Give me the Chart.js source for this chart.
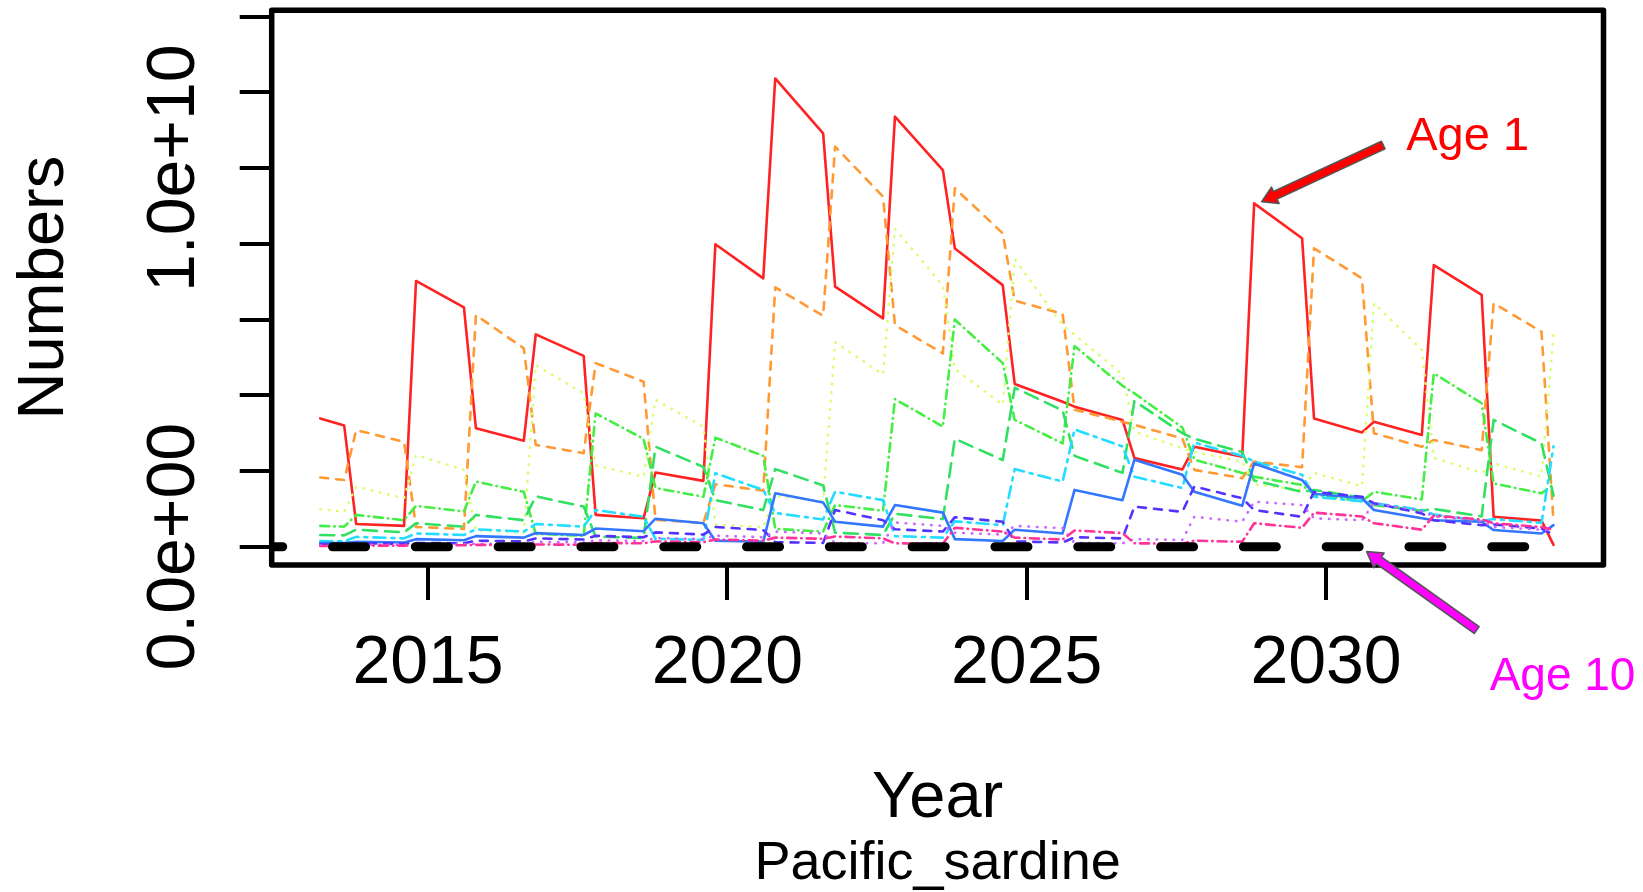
<!DOCTYPE html>
<html>
<head>
<meta charset="utf-8">
<script src="https://cdn.jsdelivr.net/npm/chart.js@4.4.1/dist/chart.umd.min.js"></script>
<style>
  html, body { margin: 0; padding: 0; background: #fff; }
  #wrap { width: 1643px; height: 892px; }
</style>
</head>
<body>
<div id="wrap"><canvas id="numbers-chart" width="1643" height="892"></canvas></div>
<script>
// time steps (years) where the lines change direction
const times = [
  2013.2, 2013.6,
  2013.8, 2014.6, 2014.8, 2015.6, 2015.8, 2016.6, 2016.8, 2017.6,
  2017.8, 2018.6, 2018.8, 2019.6, 2019.8, 2020.6, 2020.8, 2021.6,
  2021.8, 2022.6, 2022.8, 2023.6, 2023.8, 2024.6, 2024.8, 2025.6,
  2025.8, 2026.6, 2026.8, 2027.6, 2027.8, 2028.6, 2028.8, 2029.6,
  2029.8, 2030.6, 2030.8, 2031.6, 2031.8, 2032.6, 2032.8, 2033.6,
  2033.8
];

// numbers at age, in billions (1e9)
const age1 = [3.39, 3.20, 0.60, 0.55, 7.02, 6.32, 3.13, 2.80, 5.61, 5.04, 0.84, 0.75, 1.96, 1.74, 7.99, 7.09, 12.37, 10.92, 6.87, 6.03, 11.36, 9.95, 7.88, 6.91, 4.30, 3.83, 3.70, 3.35, 2.34, 2.04, 2.64, 2.38, 9.07, 8.15, 3.39, 3.02, 3.30, 2.95, 7.44, 6.65, 0.79, 0.69, 0.05];
const age2 = [1.83, 1.76, 3.08, 2.77, 0.52, 0.47, 6.12, 5.24, 2.69, 2.47, 4.85, 4.36, 0.71, 0.63, 1.65, 1.48, 6.85, 6.10, 10.57, 9.25, 5.85, 5.11, 9.47, 8.28, 6.50, 6.15, 3.62, 3.30, 3.22, 2.86, 2.03, 1.81, 2.25, 2.10, 7.88, 7.09, 3.00, 2.64, 2.82, 2.55, 6.43, 5.68, 0.66];
const age3 = [0.99, 0.92, 1.59, 1.28, 2.42, 2.03, 0.43, 0.37, 4.80, 4.05, 2.15, 1.85, 3.88, 3.17, 0.58, 0.52, 1.35, 1.20, 5.40, 4.55, 8.40, 6.90, 4.70, 3.75, 7.60, 5.85, 5.60, 4.55, 3.04, 2.60, 2.50, 2.25, 1.65, 1.50, 1.95, 1.60, 6.43, 5.20, 2.35, 1.95, 2.20, 1.85, 5.60];
const age4 = [0.55, 0.53, 0.84, 0.70, 1.08, 0.93, 1.72, 1.45, 0.34, 0.29, 3.52, 2.85, 1.55, 1.32, 2.88, 2.40, 0.47, 0.40, 1.10, 0.95, 3.90, 3.17, 6.00, 4.85, 3.35, 2.73, 5.30, 4.25, 4.05, 3.15, 2.30, 1.95, 1.85, 1.63, 1.38, 1.20, 1.45, 1.25, 4.58, 3.79, 1.67, 1.41, 1.65];
const age5 = [0.31, 0.30, 0.45, 0.38, 0.62, 0.53, 0.84, 0.70, 1.33, 1.06, 0.27, 0.23, 2.64, 2.11, 1.23, 0.97, 2.05, 1.62, 0.37, 0.31, 0.87, 0.73, 2.85, 2.29, 4.20, 3.60, 2.40, 1.95, 3.85, 3.00, 2.85, 2.50, 1.75, 1.45, 1.50, 1.30, 1.10, 0.95, 1.00, 0.80, 3.35, 2.73, 1.35];
const age6 = [0.15, 0.14, 0.26, 0.22, 0.35, 0.31, 0.46, 0.40, 0.60, 0.53, 0.97, 0.79, 0.21, 0.18, 1.94, 1.50, 0.89, 0.72, 1.45, 1.23, 0.28, 0.24, 0.67, 0.57, 2.05, 1.72, 3.10, 2.65, 1.85, 1.55, 2.75, 2.40, 2.25, 1.90, 1.32, 1.20, 1.15, 0.97, 0.85, 0.68, 0.73, 0.63, 2.65];
const age7 = [0.10, 0.10, 0.13, 0.11, 0.20, 0.17, 0.28, 0.24, 0.36, 0.31, 0.48, 0.41, 0.74, 0.62, 0.16, 0.13, 1.41, 1.17, 0.66, 0.53, 1.10, 0.90, 0.20, 0.15, 0.45, 0.35, 1.50, 1.23, 2.30, 1.90, 1.45, 1.08, 2.20, 1.76, 1.40, 1.28, 0.97, 0.75, 0.70, 0.66, 0.44, 0.35, 0.57];
const age8 = [0.06, 0.06, 0.09, 0.08, 0.10, 0.09, 0.16, 0.14, 0.22, 0.19, 0.29, 0.25, 0.38, 0.32, 0.52, 0.44, 0.12, 0.10, 0.97, 0.70, 0.46, 0.40, 0.78, 0.66, 0.14, 0.11, 0.25, 0.22, 1.06, 0.92, 1.59, 1.28, 0.97, 0.79, 1.45, 1.32, 1.15, 0.88, 0.70, 0.57, 0.59, 0.48, 0.32];
const age9 = [0.04, 0.04, 0.05, 0.05, 0.07, 0.06, 0.08, 0.07, 0.13, 0.11, 0.17, 0.15, 0.23, 0.20, 0.29, 0.25, 0.40, 0.35, 0.10, 0.09, 0.64, 0.55, 0.37, 0.32, 0.55, 0.49, 0.10, 0.09, 0.20, 0.18, 0.79, 0.66, 1.19, 1.10, 0.75, 0.70, 1.15, 0.95, 0.80, 0.68, 0.52, 0.45, 0.44];
const age10 = [0.02, 0.02, 0.03, 0.03, 0.04, 0.04, 0.05, 0.04, 0.06, 0.05, 0.10, 0.09, 0.14, 0.12, 0.19, 0.16, 0.24, 0.21, 0.27, 0.22, 0.09, 0.08, 0.50, 0.40, 0.24, 0.19, 0.43, 0.36, 0.09, 0.08, 0.16, 0.13, 0.62, 0.50, 0.90, 0.80, 0.62, 0.45, 0.82, 0.72, 0.62, 0.52, 0.45];

// thick black dashed line at zero
const zeroLineYears = [2012.39, 2033.8];
const zeroLineValues = [0, 0];

const xTickYears = [2015, 2020, 2025, 2030];
const yTickValues = [0, 2, 4, 6, 8, 10, 12, 14];
const yTickLabels = [[0, "0.0e+00"], [10, "1.0e+10"]];

const ageLabels = ["Age 1", "Age 2", "Age 3", "Age 4", "Age 5", "Age 6", "Age 7", "Age 8", "Age 9", "Age 10"];
const ageValues = [age1, age2, age3, age4, age5, age6, age7, age8, age9, age10];
const ageColors = ["#ff2222", "#ff9933", "#d8ff70", "#44ee44", "#30e060", "#22ddff", "#3377ff", "#5533ff", "#cc66ff", "#ff3399"];
const ageDashes = [[], [8, 8], [0.5, 8], [9, 5, 0.5, 5], [14, 8], [12, 6, 3, 6], [], [8, 8], [0.5, 8], [9, 5, 0.5, 5]];

const FONT = '"Liberation Sans", Arial, Helvetica, sans-serif';

const datasets = ageValues.map((vals, i) => ({
  label: ageLabels[i],
  data: times.map((t, j) => ({ x: t, y: vals[j] * 1e9 })),
  borderColor: ageColors[i],
  borderWidth: 2.6,
  borderDash: ageDashes[i],
  borderCapStyle: "round",
  borderJoinStyle: "round",
  pointRadius: 0,
  tension: 0,
  fill: false,
  order: 10 - i,
}));

datasets.push({
  label: "zero",
  data: zeroLineYears.map((t, j) => ({ x: t, y: zeroLineValues[j] })),
  borderColor: "#000",
  borderWidth: 9,
  borderDash: [33, 49.8],
  borderDashOffset: 22,
  borderCapStyle: "round",
  pointRadius: 0,
  fill: false,
  order: 0,
});

function drawArrow(ctx, x0, y0, x1, y1, fill, hw, hl) {
  const ang = Math.atan2(y1 - y0, x1 - x0);
  const len = Math.hypot(x1 - x0, y1 - y0);
  const sw = 4.2;
  ctx.save();
  ctx.translate(x0, y0);
  ctx.rotate(ang);
  ctx.beginPath();
  ctx.moveTo(0, -sw);
  ctx.lineTo(len - hl, -sw);
  ctx.lineTo(len - hl, -hw);
  ctx.lineTo(len, 0);
  ctx.lineTo(len - hl, hw);
  ctx.lineTo(len - hl, sw);
  ctx.lineTo(0, sw);
  ctx.closePath();
  ctx.fillStyle = fill;
  ctx.fill();
  ctx.lineWidth = 1.6;
  ctx.strokeStyle = "#555";
  ctx.stroke();
  ctx.restore();
}

// box, rotated labels, titles and the two arrows
const decor = {
  id: "decor",
  afterDraw(chart) {
    const { ctx, chartArea: a, scales: { x, y } } = chart;
    ctx.save();
    ctx.lineWidth = 5.5;
    ctx.strokeStyle = "#000";
    ctx.lineJoin = "round";
    ctx.strokeRect(a.left, a.top, a.right - a.left, a.bottom - a.top);

    ctx.fillStyle = "#000";
    ctx.font = "68px " + FONT;
    ctx.textAlign = "center";
    ctx.textBaseline = "alphabetic";
    xTickYears.forEach((v) => ctx.fillText(String(v), x.getPixelForValue(v), a.bottom + 118));

    yTickLabels.forEach(([v, lbl]) => {
      ctx.save();
      ctx.translate(a.left - 78, y.getPixelForValue(v * 1e9));
      ctx.rotate(-Math.PI / 2);
      ctx.fillText(lbl, 0, 0);
      ctx.restore();
    });

    ctx.font = "65px " + FONT;
    ctx.save();
    ctx.translate(63, (a.top + a.bottom) / 2);
    ctx.rotate(-Math.PI / 2);
    ctx.fillText("Numbers", 0, 0);
    ctx.restore();

    const cx = (a.left + a.right) / 2;
    ctx.fillText("Year", cx, 817);
    ctx.font = "54px " + FONT;
    ctx.fillText("Pacific_sardine", cx, 879);

    // Age 1 arrow
    const t1x = x.getPixelForValue(2028.925), t1y = y.getPixelForValue(9.115e9);
    const s1x = x.getPixelForValue(2030.956), s1y = y.getPixelForValue(10.61e9);
    drawArrow(ctx, s1x, s1y, t1x, t1y, "#ff0000", 9, 15);
    ctx.fillStyle = "#ff0000";
    ctx.font = "47px " + FONT;
    ctx.textAlign = "left";
    ctx.fillText("Age 1", s1x + 23, s1y + 5);

    // Age 10 arrow
    const t2x = x.getPixelForValue(2030.679), t2y = y.getPixelForValue(-0.13e9);
    const s2x = x.getPixelForValue(2032.516), s2y = y.getPixelForValue(-2.2e9);
    drawArrow(ctx, s2x, s2y, t2x, t2y, "#ff00ff", 9, 15);
    ctx.fillStyle = "#ff00ff";
    ctx.font = "46px " + FONT;
    ctx.fillText("Age 10", s2x + 13, s2y + 60);
    ctx.restore();
  },
};

new Chart(document.getElementById("numbers-chart"), {
  type: "line",
  data: { datasets },
  options: {
    responsive: false,
    animation: false,
    devicePixelRatio: 1,
    layout: { padding: { left: 0, top: 10.3, right: 39.5, bottom: 0 } },
    plugins: { legend: { display: false }, tooltip: { enabled: false } },
    scales: {
      x: {
        type: "linear",
        min: 2012.389,
        max: 2034.635,
        afterBuildTicks: (s) => { s.ticks = xTickYears.map((v) => ({ value: v })); },
        afterFit: (s) => { s.height = 327; },
        ticks: { display: false },
        grid: { drawOnChartArea: false, drawTicks: true, tickLength: 35, lineWidth: 4, tickWidth: 4, color: "#000" },
        border: { display: false },
      },
      y: {
        type: "linear",
        min: -0.483e9,
        max: 14.17e9,
        afterBuildTicks: (s) => { s.ticks = yTickValues.map((v) => ({ value: v * 1e9 })); },
        afterFit: (s) => { s.width = 271.7; },
        ticks: { display: false },
        grid: { drawOnChartArea: false, drawTicks: true, tickLength: 32, lineWidth: 4, tickWidth: 4, color: "#000" },
        border: { display: false },
      },
    },
  },
  plugins: [decor],
});
</script>
</body>
</html>
